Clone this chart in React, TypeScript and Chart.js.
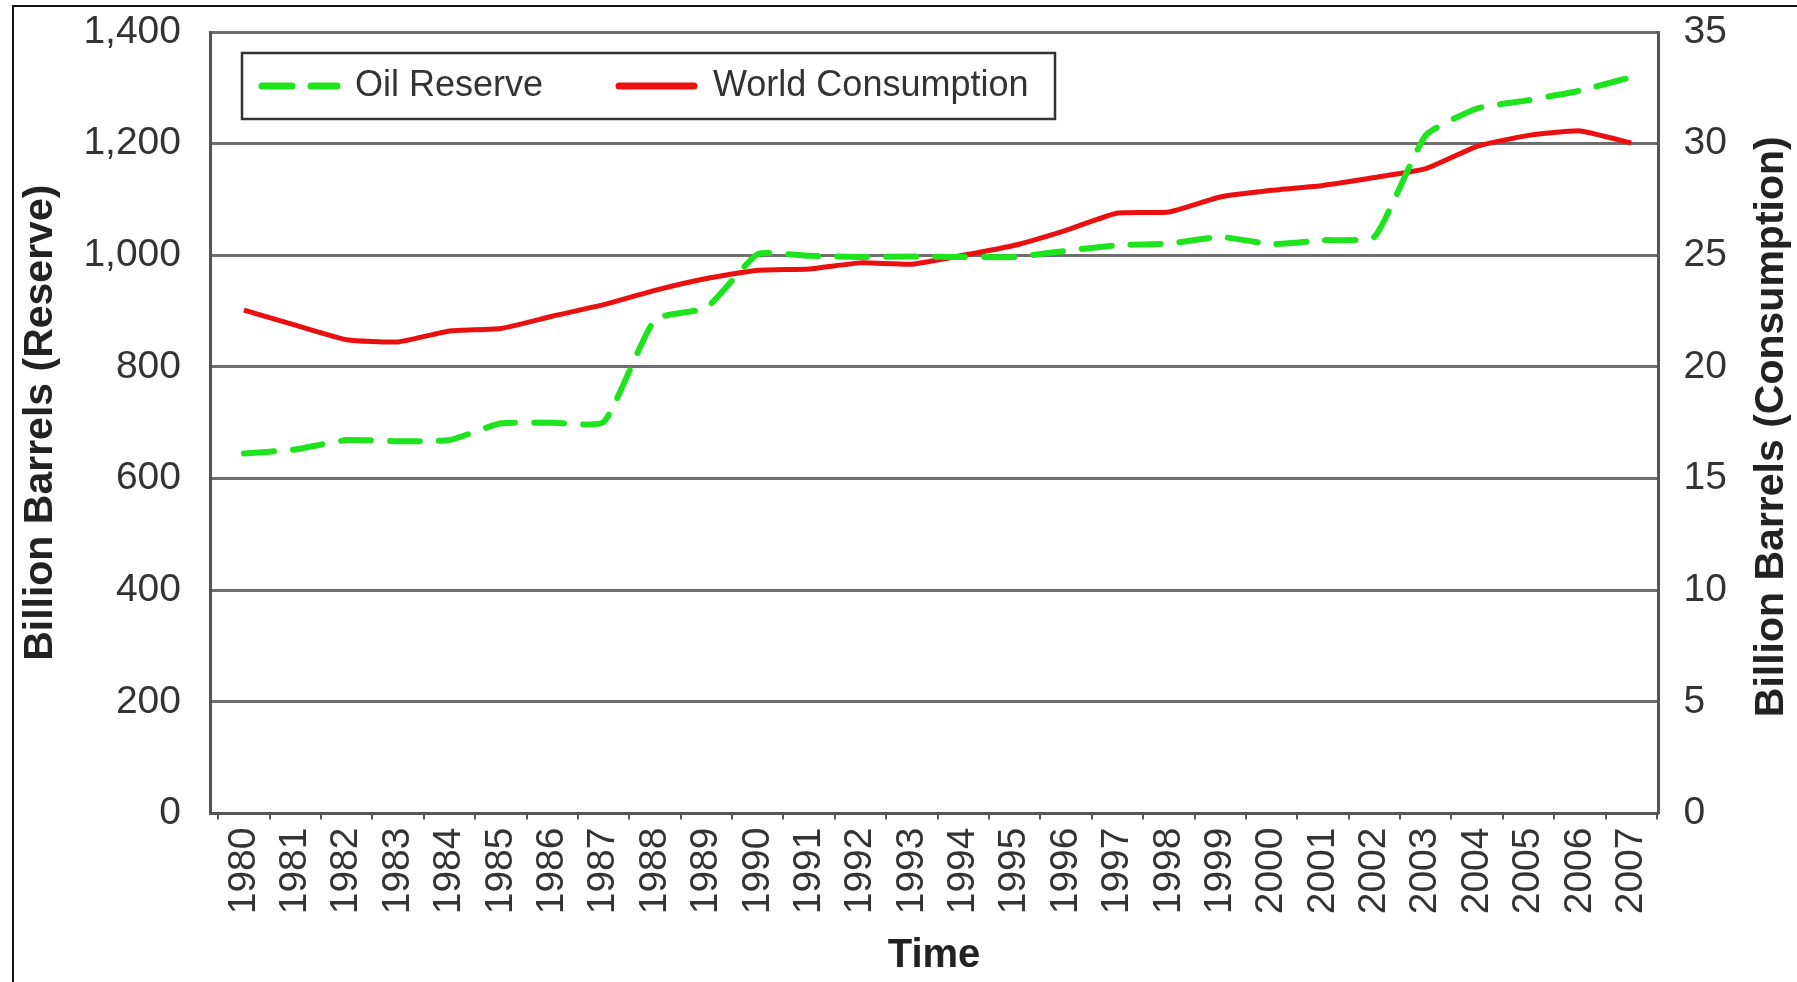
import { useEffect, useRef } from 'react';
import { Chart, ChartConfiguration, registerables } from 'chart.js';

Chart.register(...registerables);

const years = [
  1980, 1981, 1982, 1983, 1984, 1985, 1986, 1987, 1988, 1989,
  1990, 1991, 1992, 1993, 1994, 1995, 1996, 1997, 1998, 1999,
  2000, 2001, 2002, 2003, 2004, 2005, 2006, 2007,
];

// billion barrels, left axis
const oilReserve = [
  645, 652, 669, 667, 669, 699, 700, 701, 885, 906,
  1002, 999, 997, 998, 997, 997, 1008, 1018, 1021, 1033,
  1020, 1027, 1033, 1215, 1263, 1278, 1295, 1319,
];

// billion barrels, right axis
const worldConsumption = [
  22.54, 21.87, 21.22, 21.12, 21.61, 21.72, 22.27, 22.79, 23.43, 23.96,
  24.33, 24.39, 24.66, 24.6, 25.0, 25.45, 26.12, 26.89, 26.94, 27.61,
  27.91, 28.13, 28.48, 28.88, 29.88, 30.37, 30.57, 30.03,
];

const reserveTicks = [0, 200, 400, 600, 800, 1000, 1200, 1400];
const consumptionTicks = [0, 5, 10, 15, 20, 25, 30, 35];

const FONT = '"Liberation Sans", Arial, Helvetica, sans-serif';
const GREEN = 'rgb(30, 228, 30)';
const RED = 'rgb(234, 16, 16)';

// legend drawn inside the plot, boxed, like the original
const legendBox = {
  id: 'legendBox',
  afterDatasetsDraw(chart: Chart) {
    const { ctx, chartArea } = chart;
    const x = chartArea.left + 32;
    const y = chartArea.top + 21;
    const w = 813;
    const h = 66;
    const cy = y + h / 2;
    ctx.save();
    ctx.fillStyle = '#fff';
    ctx.fillRect(x, y, w, h);
    ctx.strokeStyle = '#333';
    ctx.lineWidth = 2.5;
    ctx.strokeRect(x, y, w, h);

    const items = [
      { sample: 20, text: 113 },
      { sample: 377, text: 471 },
    ];
    chart.data.datasets.forEach((ds: any, i) => {
      const it = items[i];
      ctx.beginPath();
      ctx.strokeStyle = ds.borderColor;
      ctx.lineWidth = 7;
      ctx.lineCap = 'round';
      ctx.setLineDash(ds.borderDash || []);
      ctx.moveTo(x + it.sample, cy);
      ctx.lineTo(x + it.sample + 75, cy);
      ctx.stroke();
      ctx.setLineDash([]);
      ctx.fillStyle = '#333';
      ctx.font = `36px ${FONT}`;
      ctx.textBaseline = 'middle';
      ctx.textAlign = 'left';
      ctx.fillText(ds.label, x + it.text, cy);
    });
    ctx.restore();
  },
};

// right axis title reads bottom-to-top in the original
const rightTitle = {
  id: 'rightTitle',
  afterDraw(chart: Chart) {
    const { ctx, chartArea } = chart;
    ctx.save();
    ctx.translate(1772, (chartArea.top + chartArea.bottom) / 2 + 4);
    ctx.rotate(-Math.PI / 2);
    ctx.fillStyle = '#222';
    ctx.font = `bold 41px ${FONT}`;
    ctx.textAlign = 'center';
    ctx.textBaseline = 'middle';
    ctx.fillText('Billion Barrels (Consumption)', 0, 0);
    ctx.restore();
  },
};

export default function App() {
  const chartRef = useRef<HTMLCanvasElement>(null);
  const chartInstance = useRef<Chart | null>(null);

  useEffect(() => {
    if (!chartRef.current) return;
    if (chartInstance.current) chartInstance.current.destroy();

    const config: ChartConfiguration = {
      type: 'line',
      data: {
        datasets: [
          {
            label: 'Oil Reserve',
            data: oilReserve.map((v, i) => ({ x: years[i], y: v })),
            yAxisID: 'y',
            borderColor: GREEN,
            borderWidth: 6,
            borderDash: [30, 19],
            borderCapStyle: 'round',
            pointRadius: 0,
            tension: 0.15,
            fill: false,
          },
          {
            label: 'World Consumption',
            data: worldConsumption.map((v, i) => ({ x: years[i], y: v })),
            yAxisID: 'y1',
            borderColor: RED,
            borderWidth: 5,
            pointRadius: 0,
            tension: 0.15,
            fill: false,
          },
        ],
      },
      options: {
        animation: false,
        responsive: true,
        maintainAspectRatio: false,
        layout: { padding: { top: 32, left: 0, right: 0, bottom: 0 } },
        plugins: {
          legend: { display: false },
          tooltip: { enabled: false },
        },
        scales: {
          x: {
            type: 'linear',
            min: 1979.34,
            max: 2007.52,
            afterBuildTicks: (scale: any) => {
              scale.ticks = years.map(v => ({ value: v }));
            },
            grid: {
              offset: true,
              drawOnChartArea: false,
              drawTicks: true,
              tickLength: 6,
              color: '#555',
              lineWidth: 2,
            },
            border: { display: true, color: '#555', width: 3 },
            ticks: {
              autoSkip: false,
              minRotation: 90,
              maxRotation: 90,
              padding: 8,
              color: '#333',
              font: { family: FONT, size: 39 },
              callback: (v: any) => String(v),
            },
            title: {
              display: true,
              text: 'Time',
              color: '#222',
              font: { family: FONT, size: 40, weight: 'bold' },
              padding: { top: 0, bottom: 2 },
            },
            afterFit: (scale: any) => {
              scale.height = 168.5;
            },
          },
          y: {
            position: 'left',
            min: 0,
            max: 1400,
            afterBuildTicks: (scale: any) => {
              scale.ticks = reserveTicks.map(v => ({ value: v }));
            },
            grid: {
              color: '#6e6e6e',
              lineWidth: 3,
              drawTicks: true,
              tickLength: 21,
              tickColor: 'transparent',
            },
            border: { display: true, color: '#555', width: 3 },
            ticks: {
              padding: 8,
              color: '#333',
              font: { family: FONT, size: 39 },
              callback: (v: any) => Number(v).toLocaleString('en-US'),
            },
            title: {
              display: true,
              text: 'Billion Barrels (Reserve)',
              color: '#222',
              font: { family: FONT, size: 41, weight: 'bold' },
              padding: { top: 16, bottom: 0 },
            },
            afterFit: (scale: any) => {
              scale.width = 210;
            },
          },
          y1: {
            position: 'right',
            min: 0,
            max: 35,
            afterBuildTicks: (scale: any) => {
              scale.ticks = consumptionTicks.map(v => ({ value: v }));
            },
            grid: {
              drawOnChartArea: false,
              drawTicks: true,
              tickLength: 17.5,
              tickColor: 'transparent',
            },
            border: { display: true, color: '#555', width: 3 },
            ticks: {
              padding: 8,
              color: '#333',
              font: { family: FONT, size: 39 },
            },
            afterFit: (scale: any) => {
              scale.width = 139;
            },
          },
        },
      },
      plugins: [legendBox, rightTitle],
    };

    chartInstance.current = new Chart(chartRef.current, config);

    return () => {
      if (chartInstance.current) {
        chartInstance.current.destroy();
        chartInstance.current = null;
      }
    };
  }, []);

  return (
    <div
      style={{
        position: 'absolute',
        left: 0,
        top: 0,
        width: 1797,
        height: 982,
        background: '#fff',
        overflow: 'hidden',
      }}
    >
      <div
        style={{
          position: 'absolute',
          left: 12,
          top: 5,
          right: 0,
          bottom: -10,
          borderTop: '2px solid #111',
          borderLeft: '2px solid #111',
        }}
      />
      <div style={{ position: 'absolute', left: 0, top: 0, width: 1797, height: 982 }}>
        <canvas ref={chartRef} />
      </div>
    </div>
  );
}
